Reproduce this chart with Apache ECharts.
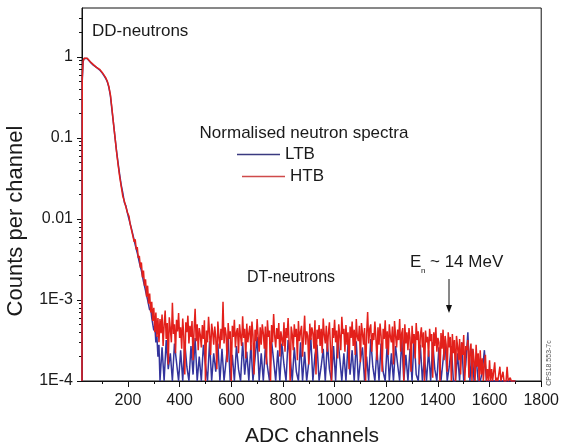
<!DOCTYPE html>
<html>
<head>
<meta charset="utf-8">
<script src="https://cdn.jsdelivr.net/npm/echarts@6/dist/echarts.min.js"></script>
<style>
html,body{margin:0;padding:0;background:#fff;}
#chart{width:562px;height:448px;}
</style>
</head>
<body>
<div id="chart"></div>
<script>
// ---- Data ----
// Peak region: channels and counts per channel
const HEAD_CH = [22,23,26,30,36,42,48,54,60,66,72,78,84,90,96,102,108,114,120,126,132,138,144,150,156,162,168,174,180,186,192,198];
const HTB_HEAD = [1e-4,0.55,0.88,0.96,1.0,0.96,0.91,0.87,0.83,0.8,0.77,0.74,0.72,0.7,0.67,0.63,0.59,0.55,0.5,0.43,0.34,0.23,0.15,0.1,0.066,0.046,0.033,0.025,0.019,0.0165,0.014,0.012];
const LTB_HEAD = [1e-4,0.5,0.86,0.95,0.99,0.95,0.9,0.86,0.82,0.79,0.76,0.74,0.71,0.69,0.66,0.62,0.58,0.54,0.49,0.42,0.33,0.22,0.15,0.1,0.068,0.048,0.035,0.026,0.021,0.016,0.0145,0.0118];

// Falling slope: channels 204..320, every 4 channels
const SLOPE_START = 204, SLOPE_STEP = 4;
const HTB_SLOPE = [0.0108,0.0088,0.0086,0.0068,0.0069,0.0052,0.0056,0.0042,0.0045,0.0033,0.0035,0.0025,0.0029,0.0019,0.0023,0.0015,0.0018,0.0011,0.0015,0.0009,0.0012,0.0007,0.00095,0.00055,0.0008,0.0004,0.0007,0.00035,0.0006,0.0003];
const LTB_SLOPE = [0.0099,0.0095,0.0079,0.0075,0.0062,0.006,0.0048,0.0048,0.0038,0.0037,0.0029,0.003,0.0023,0.0022,0.0017,0.0017,0.0013,0.0013,0.001,0.00095,0.00075,0.0008,0.0006,0.00062,0.00042,0.00048,0.0003,0.00036,0.0002,0.00028];

// DT-neutron tail, values in units of 1E-4
const TAIL_START = 324, TAIL_UNIT = 1e-4;
const HTB_TAIL_STEP = 4;   // HTB tail: channels 324..1700 every 4
const HTB_TAIL = [
 5.8,3.9,6.6,2.7,4.9,7.4,3.3,5.2,1.6,6.1,4.4,3.0,9.2,3.8,5.0,2.2,5.7,4.1,6.9,3.4,
 4.6,2.5,5.9,3.6,1.2,5.3,4.0,6.4,2.9,4.8,3.5,5.5,1.8,4.3,7.8,3.1,5.0,2.4,4.5,3.7,
 2.6,4.9,3.3,5.6,1.0,4.2,3.0,6.2,3.8,2.1,5.1,4.0,2.8,4.7,3.4,1.4,5.4,3.6,2.5,4.4,
 3.2,9.5,2.9,4.6,3.7,1.7,5.2,3.3,4.1,1.0,4.8,3.5,5.7,2.6,4.0,4.5,2.2,5.0,3.6,2.7,
 6.3,3.4,4.4,1.9,5.1,3.0,3.9,4.8,2.4,5.4,3.7,1.2,4.3,3.1,5.8,3.5,2.3,4.6,2.8,5.0,
 3.9,2.5,4.7,1.6,5.6,3.5,4.2,1.0,4.9,3.0,6.7,3.6,2.6,4.5,3.3,5.2,2.0,4.1,3.9,2.7,
 5.3,2.3,4.5,3.4,6.0,2.9,1.0,4.7,3.8,2.4,5.0,3.5,4.4,1.8,5.5,3.1,4.0,4.8,2.0,3.6,
 6.4,2.8,4.1,3.6,1.6,5.1,3.2,4.6,3.9,2.5,5.6,1.2,4.3,3.3,4.9,2.7,4.4,2.2,5.9,3.7,
 2.9,4.8,2.3,3.9,5.3,2.6,1.0,4.5,3.4,5.7,3.0,4.2,1.9,5.0,3.6,2.4,6.2,3.8,4.4,2.3,
 4.9,2.8,4.0,1.4,4.7,3.4,5.4,2.7,4.3,2.1,5.8,3.5,3.1,4.8,1.7,5.2,3.9,2.8,4.5,1.0,
 3.8,7.1,2.9,4.4,5.0,2.3,3.9,3.2,5.4,3.4,1.8,4.6,2.8,5.1,3.6,1.3,4.4,3.3,5.6,2.5,
 4.1,2.1,5.0,3.5,3.0,4.7,1.6,5.5,3.7,2.6,4.3,3.2,5.8,2.3,3.9,4.5,1.0,5.0,2.9,4.0,
 2.4,4.5,3.4,1.3,4.8,2.9,3.8,1.9,5.2,3.2,4.1,1.6,3.6,4.6,2.6,4.0,1.0,4.2,3.0,3.5,
 2.0,4.4,3.1,3.8,1.1,4.0,2.7,4.6,2.3,3.4,3.0,1.0,3.9,2.5,4.3,1.8,3.6,2.8,1.3,4.0,
 2.6,3.5,1.0,3.8,2.2,3.2,1.0,3.6,2.7,1.8,3.3,1.2,3.0,2.1,3.7,1.0,2.7,2.4,3.2,1.1,
 2.3,2.9,1.0,2.5,1.8,1.0,2.8,1.5,2.2,1.0,2.4,1.2,1.9,1.0,1.6,2.1,1.0,1.4,1.0,1.8,
 1.0,1.4,1.0,1.0,1.7,1.0,1.1,1.0,1.0,1.5,1.0,1.0,1.3,1.0,1.0,1.0,1.5,1.0,1.0,1.1,
 1.0,1.0,1.0,1.0,1.0];
const LTB_TAIL_STEP = 8;   // LTB tail: channels 324..1700 every 8
const LTB_TAIL = [
 1.0,2.6,1.0,3.2,1.4,2.2,1.0,2.9,1.7,1.0,
 2.4,1.0,3.0,1.5,1.0,2.7,1.2,3.4,1.0,2.0,
 1.0,2.8,1.6,1.0,3.1,1.0,2.2,1.3,2.9,1.0,
 2.5,1.0,1.8,3.3,1.0,2.1,1.0,2.7,1.4,1.0,
 3.0,1.2,2.3,1.0,2.8,1.0,1.9,3.5,1.0,2.2,
 1.0,2.6,1.5,1.0,3.1,1.8,1.0,2.4,1.0,2.9,
 1.6,1.0,3.2,2.0,1.0,2.6,1.3,1.0,3.0,1.0,
 2.3,1.0,1.7,3.4,1.0,2.1,2.8,1.0,1.5,2.5,
 1.0,3.0,1.4,1.0,2.7,1.0,3.6,1.9,1.0,2.2,
 1.0,2.9,1.2,2.4,1.0,3.1,1.0,1.8,2.6,1.0,
 2.0,1.0,3.3,1.5,1.0,2.5,1.0,2.9,1.3,1.0,
 3.0,1.0,2.2,1.0,2.7,1.6,1.0,3.4,1.0,2.1,
 1.0,2.5,1.0,3.5,1.2,1.0,2.8,1.0,2.0,1.0,
 2.4,1.0,3.0,1.4,1.0,2.6,1.0,1.8,3.2,1.0,
 1.5,2.7,1.0,1.0,2.2,1.0,3.0,1.0,1.6,4.0,
 1.0,2.5,1.0,1.9,1.0,1.0,1.3,2.4,1.0,1.0,
 1.0,1.0,1.0,1.0,1.0,1.0,1.0,1.0,1.0,1.0,
 1.0,1.0,1.0];

// Axis ticks
const X_MAJOR = [200,400,600,800,1000,1200,1400,1600,1800];
const X_MINOR = [100,300,500,700,900,1100,1300,1500,1700];
const Y_MAJOR = [1e-4,1e-3,1e-2,1e-1,1];
const Y_LABELS = {"0.0001":"1E-4","0.001":"1E-3","0.01":"0.01","0.1":"0.1","1":"1"};
const Y_MINOR = [2e-4,3e-4,4e-4,5e-4,6e-4,7e-4,8e-4,9e-4,
                 2e-3,3e-3,4e-3,5e-3,6e-3,7e-3,8e-3,9e-3,
                 2e-2,3e-2,4e-2,5e-2,6e-2,7e-2,8e-2,9e-2,
                 0.2,0.3,0.4,0.5,0.6,0.7,0.8,0.9,2,3];

function build(head, slope, tail, tailStep){
  const out = [];
  head.forEach((v,i)=>out.push([HEAD_CH[i], v]));
  slope.forEach((v,i)=>out.push([SLOPE_START + i*SLOPE_STEP, v]));
  tail.forEach((v,i)=>out.push([TAIL_START + i*tailStep, v*TAIL_UNIT]));
  return out;
}

const FONT = "'Liberation Sans', Arial, sans-serif";
const TXT = '#1a1a1a';
const BLUE = '#34349c', RED = '#e3201b';
const chart = echarts.init(document.getElementById('chart'), null, {renderer:'canvas'});

const xBase = {type:'value', min:22, max:1800, gridIndex:0, position:'bottom',
  splitLine:{show:false}};
const yBase = {type:'log', logBase:10, min:1e-4, max:4, gridIndex:0, position:'left',
  splitLine:{show:false}};

chart.setOption({
  animation:false,
  backgroundColor:'#fff',
  grid:{left:82, right:20, top:8, bottom:67, show:true, borderColor:'#111', borderWidth:1, backgroundColor:'transparent'},
  xAxis:[
    Object.assign({}, xBase, {
      axisLine:{show:true, onZero:false, lineStyle:{color:'#111', width:1}},
      axisTick:{show:true, inside:false, length:6, customValues:X_MAJOR, lineStyle:{color:'#111'}},
      axisLabel:{show:true, customValues:X_MAJOR, margin:12, fontSize:16, color:TXT, fontFamily:FONT,
        formatter:(v)=>String(v)}
    }),
    Object.assign({}, xBase, {
      axisLine:{show:false, onZero:false},
      axisTick:{show:true, inside:false, length:3, customValues:X_MINOR, lineStyle:{color:'#111'}},
      axisLabel:{show:false}
    })
  ],
  yAxis:[
    Object.assign({}, yBase, {
      axisLine:{show:true, onZero:false, lineStyle:{color:'#111', width:1}},
      axisTick:{show:true, inside:false, length:5, customValues:Y_MAJOR, lineStyle:{color:'#111'}},
      axisLabel:{show:true, customValues:Y_MAJOR, margin:9, fontSize:16, color:TXT, fontFamily:FONT,
        formatter:(v)=>{ const k = String(Number(v.toPrecision(6))); return Y_LABELS[k] !== undefined ? Y_LABELS[k] : k; }}
    }),
    Object.assign({}, yBase, {
      axisLine:{show:false, onZero:false},
      axisTick:{show:true, inside:false, length:3, customValues:Y_MINOR, lineStyle:{color:'#111'}},
      axisLabel:{show:false}
    })
  ],
  legend:[
    {data:[{name:'LTB', icon:'rect', itemStyle:{color:'#3a3a80'}}], left:237, top:146, padding:0, itemWidth:43, itemHeight:1.5, itemGap:0,
     textStyle:{fontSize:17, color:TXT, fontFamily:FONT}},
    {data:[{name:'HTB', icon:'rect', itemStyle:{color:'#cf4a4a'}}], left:242, top:168, padding:0, itemWidth:43, itemHeight:1.5, itemGap:0,
     textStyle:{fontSize:17, color:TXT, fontFamily:FONT}}
  ],
  series:[
    {name:'LTB', type:'line', xAxisIndex:0, yAxisIndex:0, data:build(LTB_HEAD, LTB_SLOPE, LTB_TAIL, LTB_TAIL_STEP),
     symbol:'none', showSymbol:false, color:BLUE, lineStyle:{width:1.5, color:BLUE}, clip:true, z:2},
    {name:'HTB', type:'line', xAxisIndex:0, yAxisIndex:0, data:build(HTB_HEAD, HTB_SLOPE, HTB_TAIL, HTB_TAIL_STEP),
     symbol:'none', showSymbol:false, color:RED, lineStyle:{width:1.5, color:RED}, clip:true, z:3}
  ],
  graphic:[
    {type:'text', left:92, top:23, style:{text:'DD-neutrons', font:'17px '+FONT, fill:TXT}},
    {type:'text', x:304, y:133, style:{text:'Normalised neutron spectra', font:'17px '+FONT, fill:TXT, textAlign:'center', textVerticalAlign:'middle'}},
    {type:'text', left:247, top:270, style:{text:'DT-neutrons', font:'16px '+FONT, fill:TXT}},
    {type:'text', x:410, y:262, style:{text:'E', font:'17px '+FONT, fill:TXT, textVerticalAlign:'middle'}},
    {type:'text', x:421, y:271, style:{text:'n', font:'8px '+FONT, fill:TXT, textVerticalAlign:'middle'}},
    {type:'text', x:430, y:262, style:{text:'~ 14 MeV', font:'17px '+FONT, fill:TXT, textVerticalAlign:'middle'}},
    {type:'line', shape:{x1:449, y1:279, x2:449, y2:311}, style:{stroke:'#111', lineWidth:1}},
    {type:'polygon', shape:{points:[[446,305],[452,305],[449,313]]}, style:{fill:'#111'}},
    {type:'text', x:312, y:436, style:{text:'ADC channels', font:'21px '+FONT, fill:TXT, textAlign:'center', textVerticalAlign:'middle'}},
    {type:'text', x:16, y:221, rotation:Math.PI/2, style:{text:'Counts per channel', font:'22px '+FONT, fill:TXT, textAlign:'center', textVerticalAlign:'middle'}},
    {type:'text', x:549, y:363, rotation:Math.PI/2, style:{text:'CPS18.553-7c', font:'7px '+FONT, fill:'#555', textAlign:'center', textVerticalAlign:'middle'}}
  ]
});
</script>
</body>
</html>
